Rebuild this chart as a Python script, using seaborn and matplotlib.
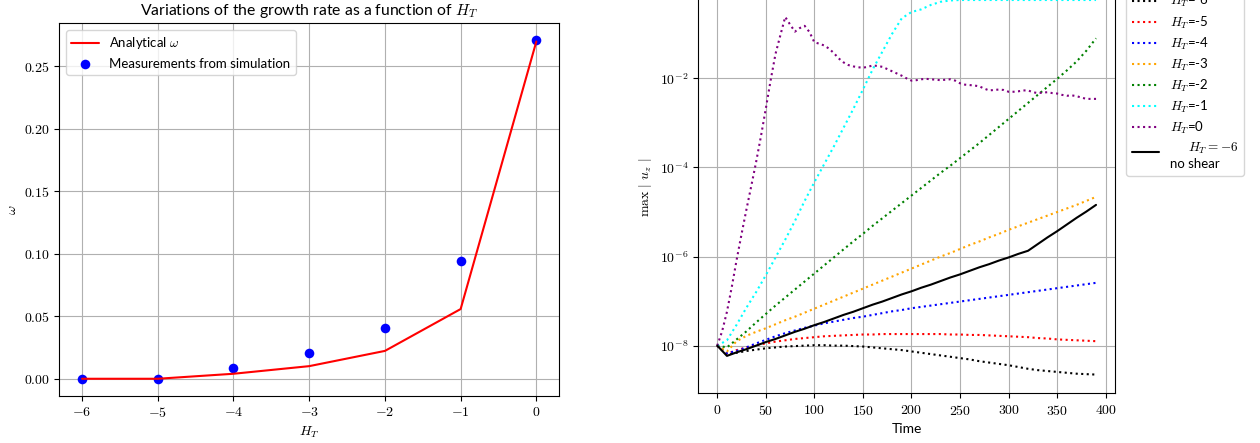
import numpy as np
import pandas as pd
import matplotlib
matplotlib.use("Agg")
import matplotlib.pyplot as plt
import seaborn as sns
from matplotlib.ticker import FuncFormatter, FixedLocator, NullLocator
from matplotlib.legend_handler import HandlerLine2D

# ---------------- data: left panel ----------------
H_T = [-6, -5, -4, -3, -2, -1, 0]
omega_analytical = [0.0, 0.0, 0.004, 0.0101, 0.0223, 0.0558, 0.270]
omega_measured = [0.0, 0.0, 0.009, 0.0207, 0.0404, 0.094, 0.271]

# ---------------- data: right panel (log10 of max|u_z|) ----------------
time_coarse = list(range(0, 400, 10))
time_fine = list(range(0, 395, 5))

log_uz_m6 = [-8.00, -8.20, -8.16, -8.12, -8.09, -8.06, -8.04, -8.02, -8.01, -8.00,
             -7.99, -7.99, -8.00, -8.00, -8.01, -8.02, -8.04, -8.06, -8.08, -8.10,
             -8.13, -8.16, -8.19, -8.22, -8.25, -8.28, -8.31, -8.35, -8.38, -8.41,
             -8.44, -8.48, -8.52, -8.55, -8.57, -8.59, -8.61, -8.63, -8.64, -8.65]
log_uz_m5 = [-8.00, -8.18, -8.10, -8.04, -7.99, -7.95, -7.91, -7.88, -7.85, -7.83,
             -7.81, -7.79, -7.78, -7.77, -7.76, -7.75, -7.75, -7.74, -7.74, -7.74,
             -7.74, -7.74, -7.74, -7.74, -7.75, -7.75, -7.76, -7.76, -7.77, -7.78,
             -7.79, -7.80, -7.81, -7.83, -7.84, -7.86, -7.87, -7.88, -7.89, -7.90]
log_uz_m4 = [-8.00, -8.17, -8.12, -8.04, -7.95, -7.87, -7.79, -7.72, -7.66, -7.60,
             -7.55, -7.50, -7.46, -7.42, -7.38, -7.35, -7.31, -7.27, -7.23, -7.20,
             -7.16, -7.13, -7.10, -7.07, -7.04, -7.01, -6.98, -6.95, -6.92, -6.89,
             -6.86, -6.83, -6.80, -6.77, -6.74, -6.71, -6.68, -6.65, -6.62, -6.59]
log_uz_m3 = [-8.00, -8.13, -7.90, -7.78, -7.69, -7.61, -7.52, -7.43, -7.35, -7.26,
             -7.17, -7.08, -6.99, -6.90, -6.81, -6.72, -6.63, -6.54, -6.45, -6.36,
             -6.27, -6.18, -6.09, -6.00, -5.92, -5.83, -5.74, -5.66, -5.57, -5.49,
             -5.40, -5.32, -5.24, -5.16, -5.08, -5.00, -4.92, -4.84, -4.75, -4.66]
log_uz_m2 = [-8.00, -8.04, -7.86, -7.68, -7.48, -7.29, -7.10, -6.92, -6.74, -6.56,
             -6.38, -6.20, -6.02, -5.84, -5.66, -5.49, -5.31, -5.14, -4.97, -4.80,
             -4.63, -4.46, -4.29, -4.12, -3.96, -3.79, -3.62, -3.45, -3.27, -3.09,
             -2.91, -2.73, -2.55, -2.37, -2.19, -2.01, -1.82, -1.62, -1.38, -1.10]
log_uz_m1 = [-8.00, -7.88, -7.53, -7.15, -6.80, -6.42, -6.02, -5.62, -5.20, -4.75,
             -4.33, -3.93, -3.53, -3.11, -2.69, -2.25, -1.80, -1.40, -1.00, -0.65,
             -0.51, -0.45, -0.35, -0.28, -0.25, -0.24, -0.24, -0.24, -0.24, -0.24,
             -0.24, -0.24, -0.24, -0.24, -0.24, -0.24, -0.24, -0.24, -0.24, -0.24]
log_uz_0 = [-8.00, -7.68, -7.24, -6.68, -6.07, -5.50, -4.95, -4.42, -3.88, -3.30,
            -2.68, -2.04, -1.45, -1.03, -0.62, -0.79, -0.95, -0.87, -0.82, -0.96,
            -1.19, -1.22, -1.26, -1.33, -1.43, -1.55, -1.64, -1.70, -1.73, -1.75,
            -1.76, -1.74, -1.71, -1.72, -1.74, -1.79, -1.84, -1.89, -1.94, -2.00,
            -2.05, -2.04, -2.02, -2.01, -2.02, -2.03, -2.04, -2.03, -2.02, -2.05,
            -2.11, -2.14, -2.15, -2.16, -2.18, -2.23, -2.27, -2.26, -2.25, -2.26,
            -2.30, -2.30, -2.29, -2.27, -2.27, -2.31, -2.33, -2.32, -2.31, -2.33,
            -2.34, -2.37, -2.39, -2.38, -2.40, -2.43, -2.46, -2.46, -2.46]
log_uz_noshear = [-8.00, -8.23, -8.15, -8.08, -8.00, -7.92, -7.85, -7.77, -7.69, -7.62,
                  -7.54, -7.47, -7.39, -7.31, -7.24, -7.16, -7.08, -7.01, -6.93, -6.85,
                  -6.78, -6.70, -6.63, -6.55, -6.47, -6.40, -6.32, -6.24, -6.17, -6.09,
                  -6.02, -5.94, -5.87, -5.72, -5.57, -5.43, -5.28, -5.13, -4.99, -4.84]

series_labels = [r"$H_T$=-6", r"$H_T$=-5", r"$H_T$=-4", r"$H_T$=-3",
                 r"$H_T$=-2", r"$H_T$=-1", r"$H_T$=0"]
series_colors = ["black", "red", "blue", "orange", "green", "cyan", "purple"]
series_times = [time_coarse] * 6 + [time_fine]
series_logs = [log_uz_m6, log_uz_m5, log_uz_m4, log_uz_m3, log_uz_m2, log_uz_m1, log_uz_0]
noshear_label = "$\\quad\\;\\; H_T = -6$\nno shear"


class RaisedLineHandler(HandlerLine2D):
    """Legend handle aligned with the first line of a two-line label."""
    def create_artists(self, legend, orig_handle, xdescent, ydescent, width,
                       height, fontsize, trans):
        return super().create_artists(legend, orig_handle, xdescent,
                                      ydescent - 6.3, width, height, fontsize, trans)


# ---------------- style ----------------
sns.set_style("ticks", {
    "axes.edgecolor": "black", "axes.linewidth": 0.8,
    "axes.grid": True, "grid.color": "#b0b0b0", "grid.linestyle": "-",
    "xtick.color": "black", "ytick.color": "black",
    "text.color": "black", "axes.labelcolor": "black",
    "xtick.direction": "out", "ytick.direction": "out",
})
plt.rcParams.update({
    "font.family": ["Lato", "DejaVu Sans"],
    "mathtext.fontset": "cm",
    "font.size": 10,
    "axes.titlesize": 11.3,
    "axes.labelsize": 10,
    "xtick.labelsize": 10,
    "ytick.labelsize": 10,
    "legend.fontsize": 9.5,
    "legend.handlelength": 2.1,
    "grid.linewidth": 0.8,
    "xtick.major.size": 3.5, "ytick.major.size": 3.5,
    "xtick.major.width": 0.8, "ytick.major.width": 0.8,
    "legend.framealpha": 0.8, "legend.edgecolor": "0.8",
    "legend.fancybox": True, "legend.frameon": True,
})

fig = plt.figure(figsize=(12.6, 4.43), dpi=100)
ax1 = fig.add_axes([0.0471, 0.1068, 0.3966, 0.8406])
ax2 = fig.add_axes([0.5542, 0.1122, 0.3307, 0.930])

# ---------------- left panel ----------------
sns.lineplot(x=H_T, y=omega_analytical, color="red", linewidth=1.5,
             label=r"Analytical $\omega$", ax=ax1)
sns.scatterplot(x=H_T, y=omega_measured, color="blue", s=48, linewidth=0,
                label="Measurements from simulation", ax=ax1)
ax1.set_title(r"Variations of the growth rate as a function of $H_T$")
ax1.set_xlabel(r"$H_T$")
ax1.set_ylabel(r"$\omega$")
ax1.xaxis.set_major_locator(FixedLocator(H_T))
ax1.xaxis.set_major_formatter(FuncFormatter(lambda v, p: f"${int(round(v))}$"))
ax1.yaxis.set_major_locator(FixedLocator([0.0, 0.05, 0.10, 0.15, 0.20, 0.25]))
ax1.yaxis.set_major_formatter(FuncFormatter(lambda v, p: f"${v:.2f}$"))
ax1.grid(True)
ax1.legend(loc="upper left")

# ---------------- right panel ----------------
for lab, col, tt, lg in zip(series_labels, series_colors, series_times, series_logs):
    df = pd.DataFrame({"Time": tt, "uz": np.power(10.0, lg)})
    sns.lineplot(data=df, x="Time", y="uz", color=col, linestyle=":",
                 linewidth=1.5, label=lab, ax=ax2, errorbar=None)
df_ns = pd.DataFrame({"Time": time_coarse, "uz": np.power(10.0, log_uz_noshear)})
sns.lineplot(data=df_ns, x="Time", y="uz", color="black", linestyle="-",
             linewidth=1.5, label=noshear_label, ax=ax2, errorbar=None)

ax2.set_yscale("log")
ax2.set_ylim(10 ** -9.07, 10 ** 0.18)
ax2.set_xlim(-19.5, 409.5)
ax2.yaxis.set_major_locator(FixedLocator([1e-8, 1e-6, 1e-4, 1e-2, 1e0]))
ax2.yaxis.set_minor_locator(NullLocator())
ax2.yaxis.set_major_formatter(FuncFormatter(
    lambda v, p: f"$10^{{{int(round(np.log10(v)))}}}$"))
ax2.xaxis.set_major_locator(FixedLocator(list(range(0, 450, 50))))
ax2.xaxis.set_major_formatter(FuncFormatter(lambda v, p: f"${int(round(v))}$"))
ax2.set_xlabel("Time")
ax2.set_ylabel(r"$\max\ |\ u_z\ |$")
ax2.grid(True, which="major")

handles, labels = ax2.get_legend_handles_labels()
ax2.legend(handles, labels, loc="upper left", bbox_to_anchor=(1.0115, 1.0),
           borderaxespad=0.5, labelspacing=0.37,
           handler_map={handles[-1]: RaisedLineHandler()})

fig.savefig("out.png", dpi=100)
